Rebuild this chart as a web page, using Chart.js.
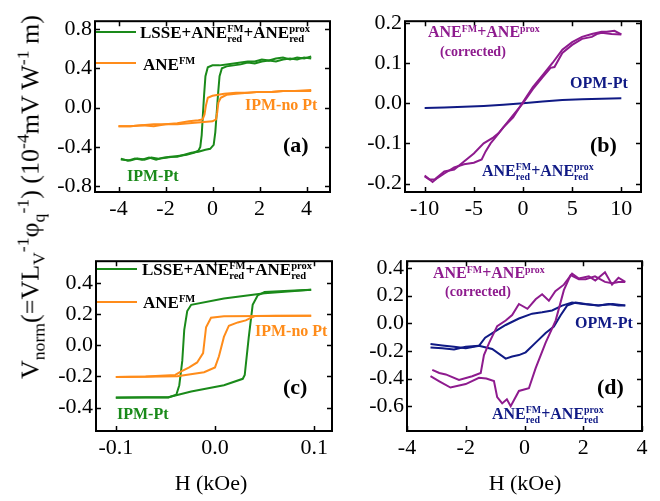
<!DOCTYPE html>
<html>
<head>
<meta charset="utf-8">
<script src="https://cdn.jsdelivr.net/npm/chart.js@4.4.1/dist/chart.umd.min.js"></script>
<style>
  body { margin: 0; background: #fff; font-family: "Liberation Serif", "DejaVu Serif", serif; }
  #wrap { position: relative; width: 660px; height: 501px; overflow: hidden; font-family: "Liberation Serif", "DejaVu Serif", serif; }
  canvas { position: absolute; }
  .lbl { position: absolute; white-space: nowrap; font-weight: bold; font-size: 16px; line-height: 1; }
  .st { display: inline-block; vertical-align: -0.42em; font-size: 0.62em; line-height: 0.98; }
  .st span { display: block; }
  .sp { font-size: 0.62em; vertical-align: 0.55em; }
  .leg { position: absolute; height: 2px; width: 40px; }
  .ytitle { position: absolute; left: 31px; top: 197px; font-size: 26px; white-space: nowrap;
            transform: translate(-50%, -50%) rotate(-90deg); }
  .ytitle sub, .ytitle sup { font-size: 0.68em; }
  .xtitle { position: absolute; font-size: 22px; top: 470px; transform: translateX(-50%); white-space: nowrap; }
</style>
</head>
<body>
<div id="wrap">
  <canvas id="chA" width="305" height="227"></canvas>
  <canvas id="chB" width="306" height="227"></canvas>
  <canvas id="chC" width="306" height="226"></canvas>
  <canvas id="chD" width="305" height="226"></canvas>

  <div class="ytitle">V<sub>norm</sub>(=VL<sub>V</sub><sup>-1</sup>&phi;<sub>q</sub><sup>-1</sup>) (10<sup>-4</sup>mV W<sup>-1</sup> m)</div>
  <div class="xtitle" style="left:211px">H (kOe)</div>
  <div class="xtitle" style="left:525px">H (kOe)</div>

  <!-- (a) -->
  <div class="leg" style="left:96px;top:31px;background:#1a8a1a"></div>
  <div class="lbl" style="left:140px;top:24px;font-size:17px">LSSE+ANE<span class="st"><span>FM</span><span>red</span></span>+ANE<span class="st"><span>prox</span><span>red</span></span></div>
  <div class="leg" style="left:96px;top:62px;background:#ff8c1a"></div>
  <div class="lbl" style="left:143px;top:56px;font-size:17px">ANE<span class="sp">FM</span></div>
  <div class="lbl" style="left:245px;top:97px;color:#ff8c1a">IPM-no Pt</div>
  <div class="lbl" style="left:283px;top:134px;font-size:22px">(a)</div>
  <div class="lbl" style="left:127px;top:168px;color:#1a8a1a">IPM-Pt</div>

  <!-- (b) -->
  <div class="lbl" style="left:428px;top:24px;color:#8e1b8e">ANE<span class="sp">FM</span>+ANE<span class="sp">prox</span></div>
  <div class="lbl" style="left:440px;top:45px;color:#8e1b8e;font-size:14px">(corrected)</div>
  <div class="lbl" style="left:570px;top:75px;color:#101a85">OPM-Pt</div>
  <div class="lbl" style="left:590px;top:134px;font-size:22px">(b)</div>
  <div class="lbl" style="left:482px;top:162px;color:#101a85">ANE<span class="st"><span>FM</span><span>red</span></span>+ANE<span class="st"><span>prox</span><span>red</span></span></div>

  <!-- (c) -->
  <div class="leg" style="left:97px;top:268px;background:#1a8a1a"></div>
  <div class="lbl" style="left:142px;top:261px;font-size:17px">LSSE+ANE<span class="st"><span>FM</span><span>red</span></span>+ANE<span class="st"><span>prox</span><span>red</span></span></div>
  <div class="leg" style="left:97px;top:301px;background:#ff8c1a"></div>
  <div class="lbl" style="left:143px;top:294px;font-size:17px">ANE<span class="sp">FM</span></div>
  <div class="lbl" style="left:255px;top:323px;color:#ff8c1a">IPM-no Pt</div>
  <div class="lbl" style="left:283px;top:376px;font-size:22px">(c)</div>
  <div class="lbl" style="left:117px;top:406px;color:#1a8a1a">IPM-Pt</div>

  <!-- (d) -->
  <div class="lbl" style="left:433px;top:265px;color:#8e1b8e">ANE<span class="sp">FM</span>+ANE<span class="sp">prox</span></div>
  <div class="lbl" style="left:445px;top:285px;color:#8e1b8e;font-size:14px">(corrected)</div>
  <div class="lbl" style="left:575px;top:315px;color:#101a85">OPM-Pt</div>
  <div class="lbl" style="left:597px;top:376px;font-size:22px">(d)</div>
  <div class="lbl" style="left:492px;top:405px;color:#101a85">ANE<span class="st"><span>FM</span><span>red</span></span>+ANE<span class="st"><span>prox</span><span>red</span></span></div>
</div>

<script>
/* ---------- DATA ---------- */
const GREEN = "#1a8a1a", ORANGE = "#ff8c1a", PURPLE = "#8e1b8e", NAVY = "#101a85";

// (a) IPM, in-plane, H in kOe
const aPtUpH   = [-3.9,-3.6,-3.3,-3.0,-2.7,-2.4,-2.1,-1.8,-1.5,-1.2,-0.9,-0.6,-0.3,-0.1,0.05,0.12,0.18,0.24,0.3,0.4,0.6,0.9,1.2,1.5,1.8,2.1,2.4,2.7,3.0,3.3,3.6,3.9,4.2];
const aPtUpV   = [-0.52,-0.54,-0.52,-0.53,-0.51,-0.53,-0.51,-0.50,-0.50,-0.48,-0.46,-0.45,-0.43,-0.42,-0.38,-0.25,-0.05,0.15,0.32,0.40,0.42,0.43,0.44,0.46,0.45,0.47,0.48,0.47,0.49,0.50,0.49,0.51,0.50];
const aPtDnH   = [4.2,3.9,3.6,3.3,3.0,2.7,2.4,2.1,1.8,1.5,1.2,0.9,0.6,0.3,0.0,-0.2,-0.3,-0.36,-0.41,-0.46,-0.52,-0.6,-0.8,-1.1,-1.4,-1.7,-2.0,-2.3,-2.6,-2.9,-3.2,-3.5,-3.9];
const aPtDnV   = [0.52,0.50,0.51,0.49,0.51,0.50,0.48,0.49,0.47,0.47,0.46,0.45,0.44,0.43,0.43,0.41,0.32,0.12,-0.08,-0.28,-0.40,-0.44,-0.46,-0.48,-0.49,-0.50,-0.51,-0.52,-0.51,-0.53,-0.52,-0.54,-0.53];
const aNoUpH   = [-4.0,-3.5,-3.0,-2.5,-2.0,-1.5,-1.0,-0.5,0.0,0.15,0.2,0.25,0.35,0.6,1.0,1.5,2.0,2.5,3.0,3.5,4.2];
const aNoUpV   = [-0.19,-0.19,-0.18,-0.19,-0.17,-0.17,-0.16,-0.15,-0.14,-0.12,-0.05,0.05,0.10,0.13,0.14,0.15,0.16,0.16,0.17,0.17,0.17];
const aNoDnH   = [4.2,3.5,3.0,2.5,2.0,1.5,1.0,0.5,0.0,-0.2,-0.28,-0.34,-0.42,-0.6,-1.0,-1.5,-2.0,-2.5,-3.0,-3.5,-4.0];
const aNoDnV   = [0.18,0.17,0.17,0.16,0.16,0.15,0.15,0.14,0.12,0.10,0.02,-0.07,-0.12,-0.13,-0.14,-0.16,-0.17,-0.17,-0.18,-0.19,-0.19];

// (b) OPM, out-of-plane
const bPtH     = [-10,-8,-6,-4,-2,0,2,4,6,8,10];
const bPtV     = [-0.012,-0.011,-0.009,-0.007,-0.004,0.0,0.004,0.008,0.010,0.011,0.012];
const bCorUpH  = [-10,-9.5,-9.2,-8.8,-8,-7,-6,-5,-4.2,-3.8,-3.3,-2.8,-2,-1,0,1,2,2.8,3.2,4,5,6,7,7.5,8,9,10];
const bCorUpV  = [-0.182,-0.19,-0.196,-0.188,-0.175,-0.16,-0.152,-0.148,-0.14,-0.12,-0.10,-0.085,-0.06,-0.03,0.0,0.035,0.065,0.088,0.09,0.125,0.145,0.16,0.165,0.172,0.175,0.172,0.171];
const bCorDnH  = [10,9.3,8.5,8,7,6,5,4,3,2,1,0,-1,-2,-2.5,-3,-4,-5,-6,-7,-8,-9,-9.5,-10];
const bCorDnV  = [0.171,0.18,0.178,0.178,0.172,0.165,0.152,0.133,0.10,0.07,0.04,0.003,-0.035,-0.06,-0.075,-0.085,-0.10,-0.125,-0.145,-0.165,-0.17,-0.19,-0.19,-0.18];

// (c) IPM, low field
const cPtUpH   = [-0.1,-0.07,-0.047,-0.024,0.009,0.028,0.030,0.034,0.038,0.043,0.05,0.075,0.097];
const cPtUpV   = [-0.335,-0.334,-0.333,-0.297,-0.256,-0.215,-0.19,0.05,0.26,0.32,0.342,0.35,0.357];
const cPtDnH   = [0.097,0.05,0.009,-0.024,-0.028,-0.031,-0.033,-0.036,-0.039,-0.047,-0.07,-0.1];
const cPtDnV   = [0.357,0.335,0.30,0.26,0.22,0.10,-0.10,-0.256,-0.317,-0.335,-0.335,-0.336];
const cNoUpH   = [-0.1,-0.07,-0.038,-0.011,0.0,0.004,0.009,0.014,0.023,0.031,0.04,0.061,0.097];
const cNoUpV   = [-0.204,-0.202,-0.198,-0.173,-0.142,-0.07,0.054,0.126,0.147,0.16,0.188,0.19,0.19];
const cNoDnH   = [0.097,0.05,0.009,-0.004,-0.009,-0.012,-0.018,-0.026,-0.035,-0.04,-0.07,-0.1];
const cNoDnV   = [0.19,0.189,0.186,0.177,0.116,-0.05,-0.11,-0.142,-0.17,-0.19,-0.2,-0.204];

// (d) OPM, low field
const dCorAH   = [-3.2,-2.9,-2.52,-2.0,-1.55,-1.3,-1.04,-0.93,-0.76,-0.6,-0.47,-0.19,0.15,0.38,0.72,1.06,1.34,1.57,1.85,2.08,2.4,2.74,2.98,3.2,3.43];
const dCorAV   = [-0.383,-0.42,-0.465,-0.44,-0.395,-0.40,-0.418,-0.535,-0.58,-0.55,-0.60,-0.49,-0.47,-0.325,-0.14,0.02,0.24,0.35,0.32,0.32,0.34,0.30,0.29,0.30,0.30];
const dCorBH   = [-3.14,-2.9,-2.68,-2.23,-1.78,-1.49,-1.38,-1.2,-0.93,-0.64,-0.42,-0.19,0.1,0.38,0.6,0.83,1.05,1.34,1.62,1.85,2.19,2.41,2.74,2.98,3.2,3.43];
const dCorBV   = [-0.337,-0.36,-0.37,-0.41,-0.383,-0.36,-0.23,-0.14,-0.02,0.02,0.06,0.14,0.105,0.174,0.21,0.163,0.232,0.28,0.36,0.325,0.34,0.31,0.37,0.28,0.33,0.30];
const dPtAH    = [-3.2,-2.8,-2.4,-2.0,-1.55,-1.34,-1.0,-0.64,-0.19,0.26,0.6,0.94,1.28,1.62,2.0,2.5,3.0,3.43];
const dPtAV    = [-0.15,-0.16,-0.17,-0.18,-0.163,-0.104,-0.058,-0.012,0.035,0.07,0.08,0.093,0.128,0.15,0.14,0.13,0.14,0.13];
const dPtBH    = [-3.2,-2.8,-2.4,-2.0,-1.55,-1.1,-0.64,-0.42,-0.19,0.04,0.38,0.72,1.0,1.23,1.45,1.74,2.08,2.53,2.87,3.2,3.43];
const dPtBV    = [-0.175,-0.18,-0.19,-0.17,-0.163,-0.186,-0.256,-0.24,-0.23,-0.21,-0.14,-0.07,-0.023,0.058,0.128,0.15,0.14,0.13,0.14,0.13,0.13];

// tick labels
const aXTicks = [-4,-2,0,2,4],       aYTicks = [-0.8,-0.4,0,0.4,0.8];
const bXTicks = [-10,-5,0,5,10],     bYTicks = [-0.2,-0.1,0,0.1,0.2];
const cXTicks = [-0.1,0,0.1],        cYTicks = [-0.4,-0.2,0,0.2,0.4];
const dXTicks = [-4,-2,0,2,4],       dYTicks = [-0.6,-0.4,-0.2,0,0.2,0.4];

/* ---------- HELPERS ---------- */
const pts = (xs, ys) => xs.map((x, i) => ({ x: x, y: ys[i] }));
const line = (xs, ys, color) => ({ data: pts(xs, ys), borderColor: color, borderWidth: 2, showLine: true, pointRadius: 0, tension: 0, fill: false });

/* frame + inward ticks on all four sides */
const framePlugin = {
  id: "frame",
  afterDraw(chart) {
    const { ctx, chartArea: a, scales } = chart;
    ctx.save();
    ctx.strokeStyle = "#000";
    ctx.lineWidth = 1.5;
    scales.x.ticks.forEach(t => {
      const px = Math.round(scales.x.getPixelForValue(t.value)) + 0.5;
      ctx.beginPath();
      ctx.moveTo(px, a.bottom); ctx.lineTo(px, a.bottom - 5);
      ctx.moveTo(px, a.top); ctx.lineTo(px, a.top + 5);
      ctx.stroke();
    });
    scales.y.ticks.forEach(t => {
      const py = Math.round(scales.y.getPixelForValue(t.value)) + 0.5;
      ctx.beginPath();
      ctx.moveTo(a.left, py); ctx.lineTo(a.left + 5, py);
      ctx.moveTo(a.right, py); ctx.lineTo(a.right - 5, py);
      ctx.stroke();
    });
    ctx.lineWidth = 2;
    ctx.strokeRect(a.left, a.top, a.right - a.left, a.bottom - a.top);
    ctx.restore();
  }
};

function makeChart(id, frame, datasets, xr, yr, xTicks, yTicks, xFmt) {
  const cv = document.getElementById(id);
  cv.style.left = (frame.l - 60) + "px";
  cv.style.top = (frame.t - 10) + "px";
  cv.width = frame.r - frame.l + 70;
  cv.height = frame.b - frame.t + 50;
  const font = { family: "'Liberation Serif', 'DejaVu Serif', serif", size: 22 };
  return new Chart(cv, {
    type: "scatter",
    data: { datasets: datasets },
    options: {
      responsive: false,
      animation: false,
      devicePixelRatio: 1,
      layout: { padding: { left: 0, top: 10, right: 10, bottom: 0 } },
      plugins: { legend: { display: false }, tooltip: { enabled: false } },
      scales: {
        x: {
          min: xr[0], max: xr[1],
          afterFit: s => { s.height = 40; },
          afterBuildTicks: s => { s.ticks = xTicks.map(v => ({ value: v })); },
          grid: { display: false, drawTicks: false },
          border: { display: false },
          ticks: { color: "#000", font: font, padding: 4, maxRotation: 0, autoSkip: false,
                   callback: v => xFmt(v) }
        },
        y: {
          min: yr[0], max: yr[1],
          afterFit: s => { s.width = 60; },
          afterBuildTicks: s => { s.ticks = yTicks.map(v => ({ value: v })); },
          grid: { display: false, drawTicks: false },
          border: { display: false },
          ticks: { color: "#000", font: font, padding: 3, autoSkip: false,
                   callback: v => v.toFixed(1) }
        }
      }
    },
    plugins: [framePlugin]
  });
}

const intFmt = v => String(Math.round(v));

makeChart("chA", { l: 95, t: 15, r: 330, b: 192 }, [
  line(aNoUpH, aNoUpV, ORANGE), line(aNoDnH, aNoDnV, ORANGE),
  line(aPtUpH, aPtUpV, GREEN), line(aPtDnH, aPtDnV, GREEN)
], [-5, 5], [-0.86, 0.88], aXTicks, aYTicks, intFmt);

makeChart("chB", { l: 405, t: 15, r: 641, b: 192 }, [
  line(bCorUpH, bCorUpV, PURPLE), line(bCorDnH, bCorDnV, PURPLE),
  line(bPtH, bPtV, NAVY)
], [-12, 12], [-0.221, 0.204], bXTicks, bYTicks, intFmt);

makeChart("chC", { l: 96, t: 255, r: 332, b: 431 }, [
  line(cNoUpH, cNoUpV, ORANGE), line(cNoDnH, cNoDnV, ORANGE),
  line(cPtUpH, cPtUpV, GREEN), line(cPtDnH, cPtDnV, GREEN)
], [-0.12, 0.118], [-0.55, 0.54], cXTicks, cYTicks, v => v.toFixed(1));

makeChart("chD", { l: 407, t: 255, r: 642, b: 431 }, [
  line(dCorAH, dCorAV, PURPLE), line(dCorBH, dCorBV, PURPLE),
  line(dPtAH, dPtAV, NAVY), line(dPtBH, dPtBV, NAVY)
], [-4, 4], [-0.78, 0.45], dXTicks, dYTicks, intFmt);
</script>
</body>
</html>
